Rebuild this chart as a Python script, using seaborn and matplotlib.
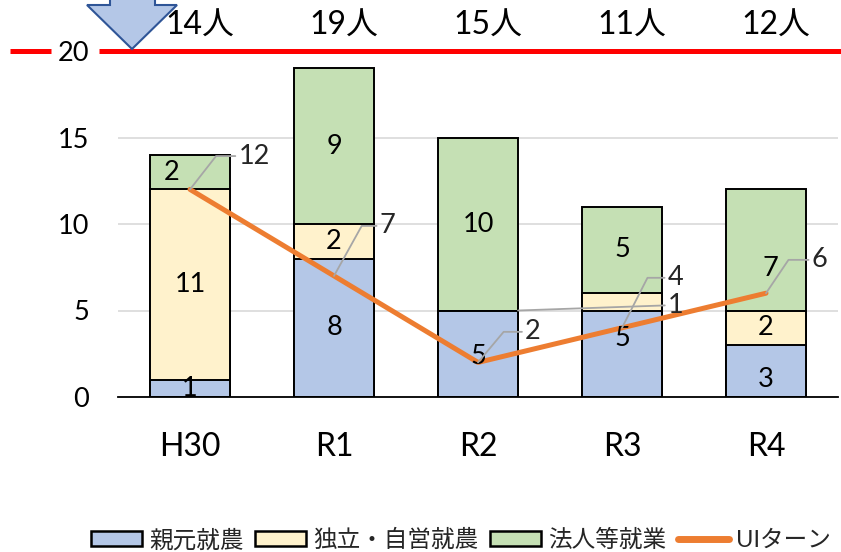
import numpy as np
import pandas as pd
import matplotlib
matplotlib.use("Agg")
import matplotlib.pyplot as plt
import matplotlib.transforms as mtrans
from matplotlib.patches import Polygon, Patch
from matplotlib.lines import Line2D
import seaborn as sns

# ---------------- data ----------------
years = ["H30", "R1", "R2", "R3", "R4"]
oyamoto = [1, 8, 5, 5, 3]          # 親元就農
dokuritsu = [11, 2, 0, 1, 2]       # 独立・自営就農
houjin = [2, 9, 10, 5, 7]          # 法人等就業
ui_turn = [12, 7, 2, 4, 6]         # UIターン
totals = [14, 19, 15, 11, 12]
series_names = ["親元就農", "独立・自営就農", "法人等就業"]
line_name = "UIターン"
yticks = [0, 5, 10, 15, 20]

# ---------------- style ----------------
sns.set_theme(style="white")
plt.rcParams["font.family"] = ["Lato", "Noto Sans CJK JP", "DejaVu Sans"]

c_blue, c_yel, c_green = "#B4C7E7", "#FFF2CC", "#C5E0B4"
c_line = "#ED7D31"
bar_w = 0.556

fig = plt.figure(figsize=(8.41, 5.52), dpi=100)
ax = fig.add_axes([118 / 841, 1 - 397 / 552, 720 / 841, 346 / 552])

df = pd.DataFrame({"year": years, "o": oyamoto, "d": dokuritsu, "h": houjin, "ui": ui_turn})
df["od"] = df["o"] + df["d"]
df["odh"] = df["od"] + df["h"]

# stacked bars drawn as overlaid cumulative bars
for col, colr in [("odh", c_green), ("od", c_yel), ("o", c_blue)]:
    sns.barplot(data=df, x="year", y=col, order=years, color=colr, width=bar_w,
                edgecolor="black", linewidth=1.4, saturation=1, ax=ax, zorder=2)

pos = np.arange(len(years))
sns.lineplot(x=pos, y=df["ui"], color=c_line, lw=3.6, sort=False, ax=ax, zorder=5,
             solid_capstyle="round")

ax.set_xlim(-0.5, len(years) - 0.5)
ax.set_ylim(0, 20)
ax.set_yticks(yticks)
ax.set_xlabel("")
ax.set_ylabel("")
for s in ["left", "right", "top"]:
    ax.spines[s].set_visible(False)
ax.spines["bottom"].set_color("black")
ax.spines["bottom"].set_linewidth(1.3)
ax.spines["bottom"].set_zorder(6)
ax.yaxis.grid(True, color="#D9D9D9", lw=1.2)
ax.set_axisbelow(True)
ax.tick_params(axis="y", length=0, pad=21, labelsize=19.5, colors="black")
ax.tick_params(axis="x", length=0, pad=25, labelsize=23, colors="black")

# segment labels (value, cumulative base) with small label nudges (points)
seg_fs = 19.5
nudges = {
    ("h", 0): (-13, 0),
    ("o", 2): (0, -2),
    ("o", 3): (0, 11),
    ("h", 4): (3, -13),
    ("o", 4): (0, -6),
}
for key, vals, base in [("o", oyamoto, [0] * 5),
                        ("d", dokuritsu, oyamoto),
                        ("h", houjin, list(df["od"]))]:
    for i, (v, b) in enumerate(zip(vals, base)):
        if v == 0:
            continue
        if key == "d" and i == 3:
            continue  # placed outside with a leader line
        dx, dy = nudges.get((key, i), (0, 0))
        ax.annotate(str(v), xy=(i, b + v / 2), xytext=(dx, dy), textcoords="offset points",
                    ha="center", va="center", fontsize=seg_fs, color="black", zorder=7)

# R3 独立 label with leader line
ax.annotate(str(dokuritsu[3]), xy=(2 + bar_w / 2, oyamoto[2]), xytext=(3.32, 5.3),
            textcoords="data", ha="left", va="center", fontsize=seg_fs, zorder=7,
            arrowprops=dict(arrowstyle="-", color="#A6A6A6", lw=1.3, shrinkA=0, shrinkB=0,
                            relpos=(0, 0.5)))

# UI-turn labels with leader lines
ui_off = [(35, 24, 52), (33, 36, 61), (34, 22, 50), (33, 36, 63), (33, 24, 56)]
for i, v in enumerate(ui_turn):
    dx, dy, ang = ui_off[i]
    ax.annotate(str(v), xy=(i, v), xytext=(dx, dy), textcoords="offset points",
                ha="left", va="center", fontsize=seg_fs, zorder=7,
                arrowprops=dict(arrowstyle="-", color="#A6A6A6", lw=1.3, shrinkA=0, shrinkB=0,
                                relpos=(0, 0.5),
                                connectionstyle=f"angle,angleA=180,angleB={ang},rad=0"))

# totals above the bars
for i, t in enumerate(totals):
    ax.annotate(f"{t}人", xy=(i, 20), xytext=(7, 18), textcoords="offset points",
                ha="center", va="center", fontsize=23, color="black", zorder=7,
                annotation_clip=False)

# red target line at 20 (broken around the tick label)
tr = mtrans.blended_transform_factory(fig.transFigure, ax.transData)
for x0, x1 in [(10 / 841, 51 / 841), (99 / 841, 1.0)]:
    ax.plot([x0, x1], [20, 20], color="#FF0000", lw=3.6, transform=tr, clip_on=False,
            zorder=8, solid_capstyle="butt")

# blue down arrow
pts_px = [(110, -8), (110, 5), (87, 5), (132, 49), (177, 5), (155, 5), (155, -8)]
arrow = Polygon([(x / 841, 1 - y / 552) for x, y in pts_px], closed=True,
                transform=fig.transFigure, facecolor="#B4C7E7", edgecolor="#2F5597",
                lw=1.5, zorder=9)
fig.patches.append(arrow)

# legend
handles = [Patch(facecolor=c, edgecolor="black", lw=1.8) for c in (c_blue, c_yel, c_green)]
handles.append(Line2D([0], [0], color=c_line, lw=5))
fig.legend(handles, series_names + [line_name], loc="center", ncol=4,
           bbox_to_anchor=(461 / 841, 1 - 540 / 552), frameon=False, fontsize=17,
           handlelength=2.15, handleheight=0.6, handletextpad=0.3, columnspacing=0.5,
           borderpad=0.1)

fig.savefig("out.png", dpi=100)
